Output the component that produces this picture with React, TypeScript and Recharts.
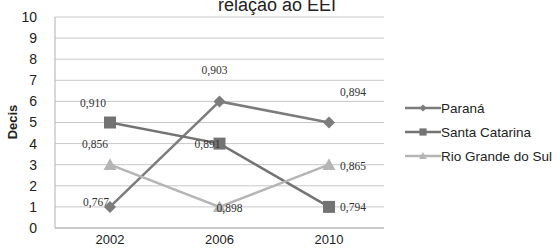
import { LineChart, Line, XAxis, YAxis, CartesianGrid, LabelList } from "recharts";

const years = ["2002", "2006", "2010"];
const parana = [1, 6, 5];
const santaCatarina = [5, 4, 1];
const rioGrande = [3, 1, 3];
const paranaLabels = ["0,767", "0,903", "0,894"];
const santaCatarinaLabels = ["0,910", "0,891", "0,794"];
const rioGrandeLabels = ["0,856", "0,898", "0,865"];
const yTicks = [0, 1, 2, 3, 4, 5, 6, 7, 8, 9, 10];

const data = years.map((year, i) => ({
  year,
  pr: parana[i],
  sc: santaCatarina[i],
  rs: rioGrande[i],
  prLabel: paranaLabels[i],
  scLabel: santaCatarinaLabels[i],
  rsLabel: rioGrandeLabels[i],
}));

// label nudges, the original labels are placed by hand
const labelOffsets: Record<string, [number, number][]> = {
  pr: [[-14, -1], [-5, -27], [24, -27]],
  sc: [[-17, -16], [-12, 4], [24, 4]],
  rs: [[-15, -17], [10, 5], [24, 5]],
};

const series = [
  { key: "pr", name: "Paraná", color: "#7c7c7c", shape: "diamond" },
  { key: "sc", name: "Santa Catarina", color: "#737373", shape: "square" },
  { key: "rs", name: "Rio Grande do Sul", color: "#b5b5b5", shape: "triangle" },
];

const Marker = ({ cx, cy, shape, color, s = 1 }: any) => {
  if (cx == null || cy == null) return null;
  if (shape === "diamond") {
    const r = 6 * s;
    return <path d={`M${cx},${cy - r}L${cx + r},${cy}L${cx},${cy + r}L${cx - r},${cy}Z`} fill={color} />;
  }
  if (shape === "square") {
    const r = 6 * s;
    return <rect x={cx - r} y={cy - r} width={r * 2} height={r * 2} fill={color} />;
  }
  const r = 6.5 * s;
  return <path d={`M${cx},${cy - r}L${cx + r},${cy + r * 0.8}L${cx - r},${cy + r * 0.8}Z`} fill={color} />;
};

const makeLabel = (key: string) => (props: any) => {
  const { x, y, value, index } = props;
  const [dx, dy] = labelOffsets[key][index];
  return (
    <text x={x + dx} y={y + dy} textAnchor="middle" fontFamily="Liberation Serif" fontSize={11.5} fill="#333">
      {value}
    </text>
  );
};

const ChartLegend = () => (
  <div style={{ position: "absolute", left: 405, top: 96 }}>
    {series.map((s) => (
      <div key={s.key} style={{ display: "flex", alignItems: "center", height: 24 }}>
        <svg width={36} height={14}>
          <line x1={0} y1={7} x2={36} y2={7} stroke={s.color} strokeWidth={2.5} />
          <Marker cx={18} cy={7} shape={s.shape} color={s.color} s={0.6} />
        </svg>
        <span style={{ fontFamily: "Liberation Sans", fontSize: 13.5, color: "#222", whiteSpace: "nowrap" }}>
          {s.name}
        </span>
      </div>
    ))}
  </div>
);

export default function App() {
  return (
    <div style={{ position: "fixed", left: 0, top: 0, width: 557, height: 249, background: "#fff" }}>
      <LineChart width={557} height={249} data={data} margin={{ top: 17, right: 173, bottom: 0, left: 0 }}>
        <text x={277} y={11} textAnchor="middle" fontFamily="Liberation Sans" fontSize={18} fill="#222">
          relação ao EEI
        </text>
        <text
          x={17}
          y={122}
          transform="rotate(-90 17 122)"
          textAnchor="middle"
          fontFamily="Liberation Sans"
          fontWeight="bold"
          fontSize={13}
          fill="#222"
        >
          Decis
        </text>
        <CartesianGrid vertical={false} stroke="#c8c8c8" />
        <XAxis
          dataKey="year"
          height={21}
          padding={{ left: 55, right: 55 }}
          tickLine={false}
          stroke="#b0b0b0"
          tick={{ fontFamily: "Liberation Sans", fontSize: 13, fill: "#222" }}
          tickMargin={1}
        />
        <YAxis
          width={55}
          domain={[0, 10]}
          ticks={yTicks}
          interval={0}
          tickLine={false}
          stroke="#b0b0b0"
          tick={{ fontFamily: "Liberation Sans", fontSize: 14, fill: "#222" }}
          tickMargin={12}
        />
        {series.map((s) => (
          <Line
            key={s.key}
            dataKey={s.key}
            name={s.name}
            stroke={s.color}
            strokeWidth={2.5}
            dot={(p: any) => <Marker key={p.index} cx={p.cx} cy={p.cy} shape={s.shape} color={s.color} />}
            activeDot={false}
            isAnimationActive={false}
          >
            <LabelList dataKey={`${s.key}Label`} content={makeLabel(s.key)} />
          </Line>
        ))}
      </LineChart>
      <ChartLegend />
    </div>
  );
}
